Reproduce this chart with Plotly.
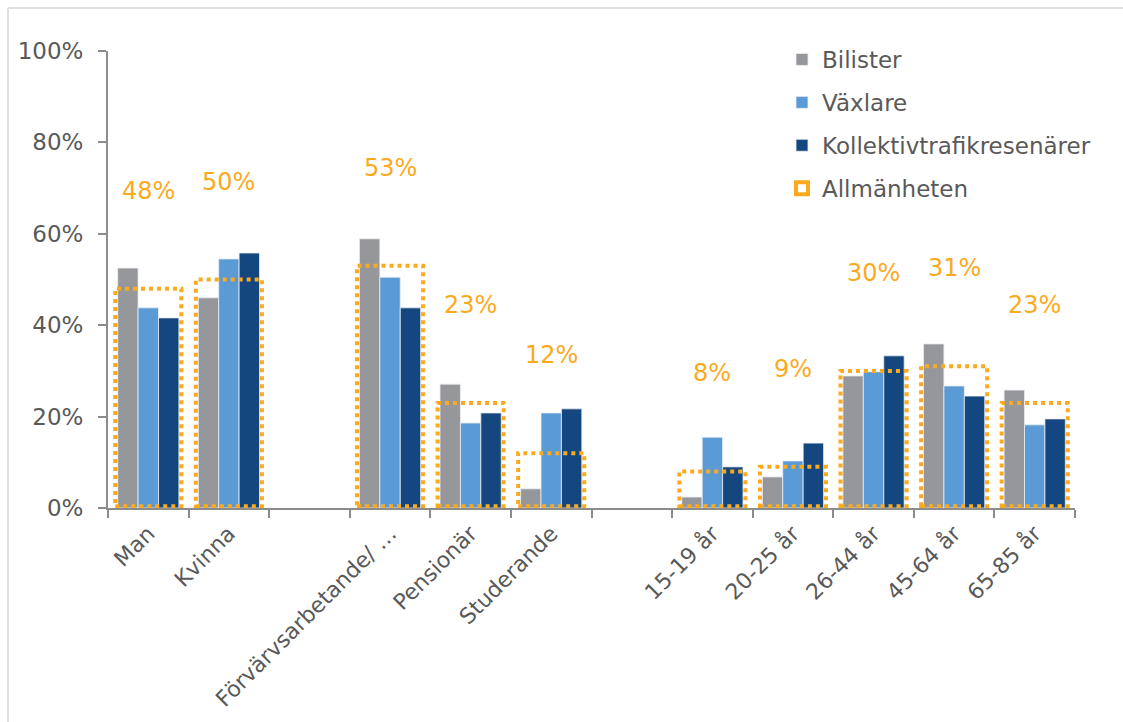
import plotly.graph_objects as go

# Kategorier (tomma platser skiljer grupperna åt)
categories = ["Man", "Kvinna", "", "Förvärvsarbetande/ …", "Pensionär", "Studerande", " ",
              "15-19 år", "20-25 år", "26-44 år", "45-64 år", "65-85 år"]

# Andel (%) per kategori
bilister = [52.5, 46.0, None, 58.9, 27.1, 4.2, None, 2.4, 6.8, 28.9, 35.9, 25.8]
vaxlare = [43.8, 54.5, None, 50.5, 18.6, 20.8, None, 15.5, 10.3, 29.8, 26.7, 18.2]
kollektiv = [41.6, 55.8, None, 43.8, 20.8, 21.7, None, 9.0, 14.2, 33.3, 24.5, 19.5]
allmanheten = [48, 50, None, 53, 23, 12, None, 8, 9, 30, 31, 23]

y_ticks = [0, 20, 40, 60, 80, 100]
y_ticktext = [f"{v}%" for v in y_ticks]

GRAY = "#96979B"
BLUE = "#5B9BD5"
NAVY = "#14467F"
ORANGE = "#FBAA1E"
TEXT = "#595959"
AXIS = "#8C8C8C"
FONT = "DejaVu Sans"

W, H = 1123, 722
ML, MR, MT, MB = 108, 48, 51, 214
PW, PH = W - ML - MR, H - MT - MB

pos = list(range(len(categories)))

fig = go.Figure()
for name, vals, col in [("Bilister", bilister, GRAY),
                        ("Växlare", vaxlare, BLUE),
                        ("Kollektivtrafikresenärer", kollektiv, NAVY)]:
    fig.add_trace(go.Bar(
        x=pos, y=vals, name=name, legendgroup=name,
        marker=dict(color=col, line=dict(color="rgba(235,238,242,0.8)", width=1)),
        hoverinfo="x+y",
    ))

# Allmänheten: prickade rutor runt varje kategori
half = 0.41
first = True
for i, v in enumerate(allmanheten):
    if v is None:
        continue
    fig.add_shape(type="rect", xref="x", yref="y",
                  x0=i - half, x1=i + half, y0=0.4, y1=v,
                  line=dict(color=ORANGE, width=4, dash="4px,4px"),
                  fillcolor="rgba(0,0,0,0)", layer="above",
                  name="Allmänheten", legendgroup="Allmänheten",
                  showlegend=first)
    first = False
    fig.add_annotation(x=i, y=v, yshift=98, text=f"{v}%", showarrow=False,
                       font=dict(family=FONT, size=24, color=ORANGE))

# Ram runt diagramytan
def px_x(p):
    return (p - ML) / PW

def px_y(p):
    return (H - MB - p) / PH

border = dict(color="#DDE1E6", width=2)
fig.add_shape(type="line", xref="paper", yref="paper", x0=px_x(8), x1=px_x(8),
              y0=px_y(8), y1=px_y(H), line=border)
fig.add_shape(type="line", xref="paper", yref="paper", x0=px_x(8), x1=px_x(W),
              y0=px_y(8), y1=px_y(8), line=border)

fig.update_layout(
    width=W, height=H,
    margin=dict(l=ML, r=MR, t=MT, b=MB, autoexpand=False),
    paper_bgcolor="white", plot_bgcolor="white",
    barmode="group", bargap=0.24, bargroupgap=0,
    font=dict(family=FONT, size=23, color=TEXT),
    showlegend=True,
    legend=dict(x=px_x(782), y=px_y(38), xanchor="left", yanchor="top",
                font=dict(family=FONT, size=23, color=TEXT),
                tracegroupgap=10, bgcolor="rgba(0,0,0,0)"),
    xaxis=dict(range=[-0.5, len(categories) - 0.5], automargin=False,
               tickvals=pos, ticktext=categories, tickangle=-45,
               ticks="", showline=True, linecolor=AXIS, linewidth=2,
               showgrid=False, zeroline=False, ticklabelstandoff=2,
               minor=dict(tickvals=[p - 0.5 for p in pos] + [pos[-1] + 0.5],
                          ticks="outside", ticklen=8, tickcolor=AXIS, tickwidth=2),
               tickfont=dict(family=FONT, size=22, color=TEXT)),
    yaxis=dict(range=[0, 100], tickvals=y_ticks, ticktext=y_ticktext, automargin=False,
               ticks="outside", ticklen=8, tickcolor=AXIS, tickwidth=2,
               showline=True, linecolor=AXIS, linewidth=2,
               showgrid=False, zeroline=False, ticklabelstandoff=10,
               tickfont=dict(family=FONT, size=23, color=TEXT)),
)

fig.write_html("out.html")
